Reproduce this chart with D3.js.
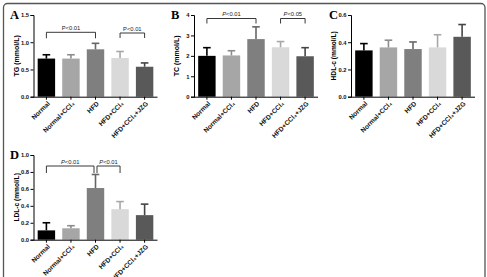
<!DOCTYPE html>
<html><head><meta charset="utf-8">
<script src="https://cdn.jsdelivr.net/npm/d3@7/dist/d3.min.js"></script>
<style>
html,body{margin:0;padding:0;background:#fff;}
svg{display:block;}
</style></head>
<body>
<script>
const categories = ["Normal","Normal+CCl\u2084","HFD","HFD+CCl\u2084","HFD+CCl\u2084+JZG"];
const barColors = ["#000000","#a6a6a6","#7f7f7f","#d9d9d9","#595959"];
const errColors = ["#000000","#8c8c8c","#666666","#a8a8a8","#454545"];

const tgMean = [0.70,0.70,0.87,0.71,0.55];
const tgErr  = [0.77,0.77,0.98,0.83,0.62];
const tcMean = [2.00,2.02,2.82,2.42,1.98];
const tcErr  = [2.40,2.25,3.42,2.70,2.40];
const hdlMean = [0.340,0.362,0.350,0.362,0.440];
const hdlErr  = [0.390,0.415,0.402,0.455,0.530];
const ldlMean = [0.11,0.135,0.61,0.36,0.29];
const ldlErr  = [0.20,0.165,0.77,0.45,0.42];

const tgTicks = [0,0.5,1.0,1.5];
const tcTicks = [0,1,2,3,4];
const hdlTicks = [0,0.2,0.4,0.6];
const ldlTicks = [0,0.2,0.4,0.6,0.8,1.0];

const SANS = 'Arial,"Liberation Sans","DejaVu Sans",sans-serif';
const SERIF = '"Times New Roman","Liberation Serif","DejaVu Serif",serif';

const W = 487, H = 277;
const svg = d3.select("body").append("svg").attr("width",W).attr("height",H);

svg.append("rect").attr("x",3.5).attr("y",3.5).attr("width",481.5).attr("height",300)
  .attr("rx",4).attr("fill","none").attr("stroke","#555").attr("stroke-width",1.3);

function panel(cfg){
  const g = svg.append("g");
  const x = d3.scaleBand().domain(categories).range([cfg.x0, cfg.x0+124]).paddingInner(0.29).paddingOuter(0.17);
  const y = d3.scaleLinear().domain([0, cfg.ymax]).range([cfg.yb, cfg.yt]);
  g.selectAll("rect.bar").data(categories).enter().append("rect")
    .attr("x", d=>x(d)).attr("width", x.bandwidth())
    .attr("y", (d,i)=>y(cfg.mean[i])).attr("height",(d,i)=>y(0)-y(cfg.mean[i]))
    .attr("fill",(d,i)=>barColors[i]);
  const eg = g.selectAll("g.err").data(categories).enter().append("g");
  eg.append("line").attr("x1",d=>x(d)+x.bandwidth()/2).attr("x2",d=>x(d)+x.bandwidth()/2)
    .attr("y1",(d,i)=>y(cfg.mean[i])).attr("y2",(d,i)=>y(cfg.err[i]))
    .attr("stroke",(d,i)=>errColors[i]).attr("stroke-width",1.6);
  eg.append("line").attr("x1",d=>x(d)+x.bandwidth()/2-3.8).attr("x2",d=>x(d)+x.bandwidth()/2+3.8)
    .attr("y1",(d,i)=>y(cfg.err[i])).attr("y2",(d,i)=>y(cfg.err[i]))
    .attr("stroke",(d,i)=>errColors[i]).attr("stroke-width",1.6);
  const ya = g.append("g").attr("transform",`translate(${cfg.x0},0)`)
    .call(d3.axisLeft(y).tickValues(cfg.ticks).tickFormat(d3.format(cfg.fmt)).tickSize(3).tickPadding(1.5));
  ya.select(".domain").attr("stroke","#000").attr("stroke-width",1);
  ya.selectAll(".tick line").attr("stroke","#000");
  ya.selectAll("text").attr("font-size",5.8).attr("font-weight","bold").attr("fill","#111").style("font-family",SANS);
  const xa = g.append("g").attr("transform",`translate(0,${cfg.yb})`)
    .call(d3.axisBottom(x).tickSize(3).tickSizeOuter(0));
  xa.select(".domain").attr("stroke","#000").attr("stroke-width",1).attr("d",`M${cfg.x0},0.5H${cfg.x0+124}`);
  xa.selectAll(".tick line").attr("stroke","#000");
  xa.selectAll("text").attr("font-size",6.6).attr("font-weight","bold").attr("fill","#111")
    .style("font-family",SANS)
    .attr("text-anchor","end").attr("transform","translate(3,5) rotate(-45)").attr("dy","0.35em").attr("y",0).attr("x",-1);
  g.append("text").attr("transform",`translate(${cfg.x0-15},${(cfg.yt+cfg.yb)/2}) rotate(-90)`)
    .attr("text-anchor","middle").attr("font-size",cfg.tsize||7).attr("font-weight","bold")
    .style("font-family",SANS).text(cfg.title);
  g.append("text").attr("x",cfg.lx).attr("y",cfg.ly).style("font-family",SERIF)
    .attr("font-size",12.5).attr("font-weight","bold").text(cfg.letter);
  (cfg.brackets||[]).forEach(b=>{
    const xa1 = x(categories[b.a])+x.bandwidth()/2 + (b.da||0);
    const xb1 = x(categories[b.b])+x.bandwidth()/2 + (b.db||0);
    g.append("path").attr("d",`M${xa1},${b.y+b.drop}V${b.y}H${xb1}V${b.y+b.drop}`)
      .attr("fill","none").attr("stroke","#222").attr("stroke-width",0.9);
    const t = g.append("text").attr("x",(xa1+xb1)/2).attr("y",b.y-2.5).attr("text-anchor","middle")
      .attr("font-size",5.8).attr("fill","#222").style("font-family",SANS);
    t.append("tspan").attr("font-style",b.italic?"italic":null).text("P");
    t.append("tspan").text(b.label);
  });
}

panel({x0:33.5, yt:15, yb:96.7, ymax:1.5, mean:tgMean, err:tgErr, ticks:tgTicks, fmt:".1f",
  title:"TG (mmol/L)", letter:"A", lx:10, ly:19,
  brackets:[{a:0,b:2,y:32.3,drop:6,label:"<0.01"},{a:3,b:4,y:33,drop:5,label:"<0.01"}]});
panel({x0:194, yt:15, yb:96.7, ymax:4, mean:tcMean, err:tcErr, ticks:tcTicks, fmt:"d",
  title:"TC (mmol/L)", letter:"B", lx:171, ly:19,
  brackets:[{a:0,b:2,y:18.5,drop:5,label:"<0.01",italic:true},{a:3,b:4,y:18.5,drop:5,label:"<0.05",italic:true}]});
panel({x0:351, yt:15, yb:96.7, ymax:0.6, mean:hdlMean, err:hdlErr, ticks:hdlTicks, fmt:".1f",
  title:"HDL-c (mmol/L)", letter:"C", lx:329, ly:19, tsize:6.6});
panel({x0:33.5, yt:155, yb:239.7, ymax:1.0, mean:ldlMean, err:ldlErr, ticks:ldlTicks, fmt:".1f",
  title:"LDL-c (mmol/L)", letter:"D", lx:10, ly:159, tsize:6.6,
  brackets:[{a:0,b:2,y:166,drop:7,label:"<0.01",italic:true,db:-1.5},{a:2,b:3,y:166,drop:7,label:"<0.01",italic:true,da:1.5}]});
</script>
</body></html>
